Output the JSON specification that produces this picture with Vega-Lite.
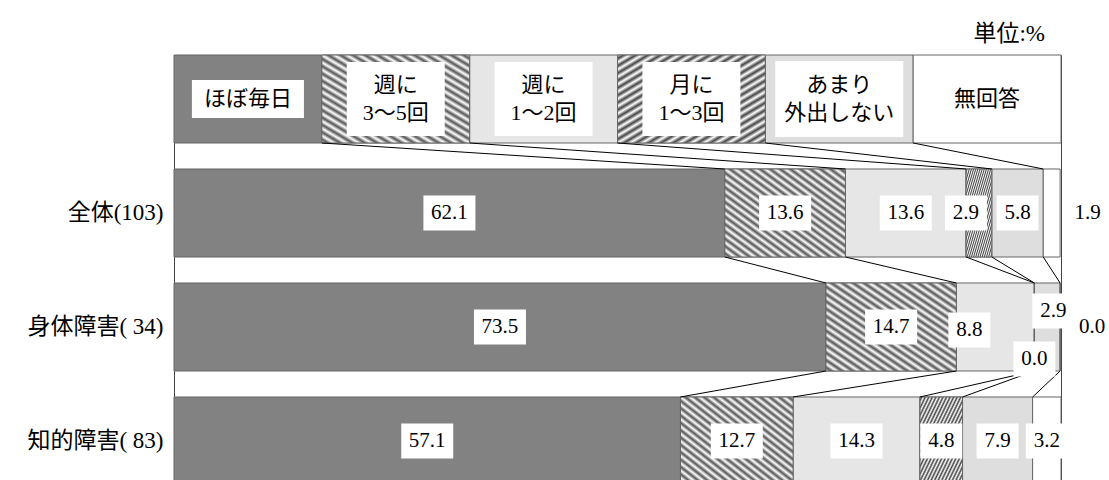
{
  "$schema": "https://vega.github.io/schema/vega-lite/v6.json",
  "width": 887,
  "height": 430,
  "autosize": {"type": "none"},
  "padding": {"left": 174, "top": 55, "right": 48, "bottom": 0},
  "background": "white",
  "config": {
    "view": {"stroke": "#444", "strokeWidth": 1},
    "font": "Liberation Serif, Noto Sans CJK JP",
    "text": {"font": "Liberation Serif, Noto Sans CJK JP", "color": "#000"}
  },
  "title": {"text": "単位:%", "anchor": "end", "frame": "group", "fontSize": 23, "fontWeight": "normal", "font": "Liberation Serif, Noto Sans CJK JP", "color": "#000", "offset": 9, "dx": -16},
  "datasets": {
    "bars": [
      {"row": "legend", "k": 1, "cat": "ほぼ毎日", "v": 16.6667, "label": "ほぼ毎日"},
      {"row": "legend", "k": 2, "cat": "週に3～5回", "v": 16.6667, "label": "週に\n3～5回"},
      {"row": "legend", "k": 3, "cat": "週に1～2回", "v": 16.6667, "label": "週に\n1～2回"},
      {"row": "legend", "k": 4, "cat": "月に1～3回", "v": 16.6667, "label": "月に\n1～3回"},
      {"row": "legend", "k": 5, "cat": "あまり外出しない", "v": 16.6667, "label": "あまり\n外出しない"},
      {"row": "legend", "k": 6, "cat": "無回答", "v": 16.6667, "label": "無回答"},
      {"row": "全体(103)", "k": 1, "cat": "ほぼ毎日", "v": 62.1},
      {"row": "全体(103)", "k": 2, "cat": "週に3～5回", "v": 13.6},
      {"row": "全体(103)", "k": 3, "cat": "週に1～2回", "v": 13.6},
      {"row": "全体(103)", "k": 4, "cat": "月に1～3回", "v": 2.9},
      {"row": "全体(103)", "k": 5, "cat": "あまり外出しない", "v": 5.8},
      {"row": "全体(103)", "k": 6, "cat": "無回答", "v": 1.9},
      {"row": "身体障害( 34)", "k": 1, "cat": "ほぼ毎日", "v": 73.5},
      {"row": "身体障害( 34)", "k": 2, "cat": "週に3～5回", "v": 14.7},
      {"row": "身体障害( 34)", "k": 3, "cat": "週に1～2回", "v": 8.8},
      {"row": "身体障害( 34)", "k": 4, "cat": "月に1～3回", "v": 0.0},
      {"row": "身体障害( 34)", "k": 5, "cat": "あまり外出しない", "v": 2.9},
      {"row": "身体障害( 34)", "k": 6, "cat": "無回答", "v": 0.0},
      {"row": "知的障害( 83)", "k": 1, "cat": "ほぼ毎日", "v": 57.1},
      {"row": "知的障害( 83)", "k": 2, "cat": "週に3～5回", "v": 12.7},
      {"row": "知的障害( 83)", "k": 3, "cat": "週に1～2回", "v": 14.3},
      {"row": "知的障害( 83)", "k": 4, "cat": "月に1～3回", "v": 4.8},
      {"row": "知的障害( 83)", "k": 5, "cat": "あまり外出しない", "v": 7.9},
      {"row": "知的障害( 83)", "k": 6, "cat": "無回答", "v": 3.2}
    ],
    "links": [
      {"from": "legend", "to": "全体(103)", "a": 16.6667, "b": 62.1},
      {"from": "legend", "to": "全体(103)", "a": 33.3333, "b": 75.7},
      {"from": "legend", "to": "全体(103)", "a": 50.0, "b": 89.3},
      {"from": "legend", "to": "全体(103)", "a": 66.6667, "b": 92.2},
      {"from": "legend", "to": "全体(103)", "a": 83.3333, "b": 98.0},
      {"from": "全体(103)", "to": "身体障害( 34)", "a": 62.1, "b": 73.5},
      {"from": "全体(103)", "to": "身体障害( 34)", "a": 75.7, "b": 88.2},
      {"from": "全体(103)", "to": "身体障害( 34)", "a": 89.3, "b": 97.0},
      {"from": "全体(103)", "to": "身体障害( 34)", "a": 92.2, "b": 97.0},
      {"from": "全体(103)", "to": "身体障害( 34)", "a": 98.0, "b": 99.9},
      {"from": "身体障害( 34)", "to": "知的障害( 83)", "a": 73.5, "b": 57.1},
      {"from": "身体障害( 34)", "to": "知的障害( 83)", "a": 88.2, "b": 69.8},
      {"from": "身体障害( 34)", "to": "知的障害( 83)", "a": 97.0, "b": 84.1},
      {"from": "身体障害( 34)", "to": "知的障害( 83)", "a": 97.0, "b": 88.9},
      {"from": "身体障害( 34)", "to": "知的障害( 83)", "a": 99.9, "b": 96.8}
    ]
  },
  "data": {"name": "bars"},
  "transform": [
    {"stack": "v", "groupby": ["row"], "sort": [{"field": "k", "order": "ascending"}], "as": ["x0", "x1"]}
  ],
  "layer": [
    {
      "mark": {"type": "bar", "stroke": "#666", "strokeWidth": 1},
      "encoding": {
        "y": {
          "field": "row", "type": "nominal", "sort": null, "title": null,
          "scale": {"domain": ["legend", "全体(103)", "身体障害( 34)", "知的障害( 83)"], "paddingInner": 0.228, "paddingOuter": 0},
          "axis": {"labelExpr": "datum.value == 'legend' ? '' : datum.value", "ticks": false, "domain": false, "labelFontSize": 23, "labelPadding": 11, "labelColor": "#000", "labelFont": "Liberation Serif, Noto Sans CJK JP"}
        },
        "x": {"field": "x0", "type": "quantitative", "scale": {"domain": [0, 100], "nice": false}, "axis": null},
        "x2": {"field": "x1"},
        "color": {
          "field": "cat", "type": "nominal", "legend": null,
          "scale": {"domain": ["ほぼ毎日", "週に3～5回", "週に1～2回", "月に1～3回", "あまり外出しない", "無回答"], "range": ["#828282", "#b0b0b0", "#e6e6e6", "#a0a0a0", "#dedede", "#ffffff"]}
        }
      }
    },
    {
      "transform": [{"filter": "datum.k == 2"}],
      "mark": {"type": "bar", "stroke": "#666", "strokeWidth": 1,
        "fill": {"gradient": "linear", "x1": 0, "y1": 1, "x2": 1, "y2": 0, "stops": [
          {"offset": 0, "color": "#ffffff"}, {"offset": 0.0208, "color": "#555555"}, {"offset": 0.0417, "color": "#ffffff"}, {"offset": 0.0625, "color": "#555555"},
          {"offset": 0.0833, "color": "#ffffff"}, {"offset": 0.1042, "color": "#555555"}, {"offset": 0.125, "color": "#ffffff"}, {"offset": 0.1458, "color": "#555555"},
          {"offset": 0.1667, "color": "#ffffff"}, {"offset": 0.1875, "color": "#555555"}, {"offset": 0.2083, "color": "#ffffff"}, {"offset": 0.2292, "color": "#555555"},
          {"offset": 0.25, "color": "#ffffff"}, {"offset": 0.2708, "color": "#555555"}, {"offset": 0.2917, "color": "#ffffff"}, {"offset": 0.3125, "color": "#555555"},
          {"offset": 0.3333, "color": "#ffffff"}, {"offset": 0.3542, "color": "#555555"}, {"offset": 0.375, "color": "#ffffff"}, {"offset": 0.3958, "color": "#555555"},
          {"offset": 0.4167, "color": "#ffffff"}, {"offset": 0.4375, "color": "#555555"}, {"offset": 0.4583, "color": "#ffffff"}, {"offset": 0.4792, "color": "#555555"},
          {"offset": 0.5, "color": "#ffffff"}, {"offset": 0.5208, "color": "#555555"}, {"offset": 0.5417, "color": "#ffffff"}, {"offset": 0.5625, "color": "#555555"},
          {"offset": 0.5833, "color": "#ffffff"}, {"offset": 0.6042, "color": "#555555"}, {"offset": 0.625, "color": "#ffffff"}, {"offset": 0.6458, "color": "#555555"},
          {"offset": 0.6667, "color": "#ffffff"}, {"offset": 0.6875, "color": "#555555"}, {"offset": 0.7083, "color": "#ffffff"}, {"offset": 0.7292, "color": "#555555"},
          {"offset": 0.75, "color": "#ffffff"}, {"offset": 0.7708, "color": "#555555"}, {"offset": 0.7917, "color": "#ffffff"}, {"offset": 0.8125, "color": "#555555"},
          {"offset": 0.8333, "color": "#ffffff"}, {"offset": 0.8542, "color": "#555555"}, {"offset": 0.875, "color": "#ffffff"}, {"offset": 0.8958, "color": "#555555"},
          {"offset": 0.9167, "color": "#ffffff"}, {"offset": 0.9375, "color": "#555555"}, {"offset": 0.9583, "color": "#ffffff"}, {"offset": 0.9792, "color": "#555555"},
          {"offset": 1, "color": "#ffffff"}
        ]}},
      "encoding": {
        "y": {"field": "row", "type": "nominal"},
        "x": {"field": "x0", "type": "quantitative"},
        "x2": {"field": "x1"}
      }
    },
    {
      "transform": [{"filter": "datum.k == 4"}],
      "mark": {"type": "bar", "stroke": "#666", "strokeWidth": 1,
        "fill": {"gradient": "linear", "x1": 0, "y1": 0, "x2": 1, "y2": 1, "stops": [
          {"offset": 0, "color": "#ffffff"}, {"offset": 0.0208, "color": "#444444"}, {"offset": 0.0417, "color": "#ffffff"}, {"offset": 0.0625, "color": "#444444"},
          {"offset": 0.0833, "color": "#ffffff"}, {"offset": 0.1042, "color": "#444444"}, {"offset": 0.125, "color": "#ffffff"}, {"offset": 0.1458, "color": "#444444"},
          {"offset": 0.1667, "color": "#ffffff"}, {"offset": 0.1875, "color": "#444444"}, {"offset": 0.2083, "color": "#ffffff"}, {"offset": 0.2292, "color": "#444444"},
          {"offset": 0.25, "color": "#ffffff"}, {"offset": 0.2708, "color": "#444444"}, {"offset": 0.2917, "color": "#ffffff"}, {"offset": 0.3125, "color": "#444444"},
          {"offset": 0.3333, "color": "#ffffff"}, {"offset": 0.3542, "color": "#444444"}, {"offset": 0.375, "color": "#ffffff"}, {"offset": 0.3958, "color": "#444444"},
          {"offset": 0.4167, "color": "#ffffff"}, {"offset": 0.4375, "color": "#444444"}, {"offset": 0.4583, "color": "#ffffff"}, {"offset": 0.4792, "color": "#444444"},
          {"offset": 0.5, "color": "#ffffff"}, {"offset": 0.5208, "color": "#444444"}, {"offset": 0.5417, "color": "#ffffff"}, {"offset": 0.5625, "color": "#444444"},
          {"offset": 0.5833, "color": "#ffffff"}, {"offset": 0.6042, "color": "#444444"}, {"offset": 0.625, "color": "#ffffff"}, {"offset": 0.6458, "color": "#444444"},
          {"offset": 0.6667, "color": "#ffffff"}, {"offset": 0.6875, "color": "#444444"}, {"offset": 0.7083, "color": "#ffffff"}, {"offset": 0.7292, "color": "#444444"},
          {"offset": 0.75, "color": "#ffffff"}, {"offset": 0.7708, "color": "#444444"}, {"offset": 0.7917, "color": "#ffffff"}, {"offset": 0.8125, "color": "#444444"},
          {"offset": 0.8333, "color": "#ffffff"}, {"offset": 0.8542, "color": "#444444"}, {"offset": 0.875, "color": "#ffffff"}, {"offset": 0.8958, "color": "#444444"},
          {"offset": 0.9167, "color": "#ffffff"}, {"offset": 0.9375, "color": "#444444"}, {"offset": 0.9583, "color": "#ffffff"}, {"offset": 0.9792, "color": "#444444"},
          {"offset": 1, "color": "#ffffff"}
        ]}},
      "encoding": {
        "y": {"field": "row", "type": "nominal"},
        "x": {"field": "x0", "type": "quantitative"},
        "x2": {"field": "x1"}
      }
    },
    {
      "data": {"name": "links"},
      "mark": {"type": "rule", "color": "#000", "strokeWidth": 1},
      "encoding": {
        "x": {"field": "a", "type": "quantitative"},
        "x2": {"field": "b"},
        "y": {"field": "from", "type": "nominal", "bandPosition": 1},
        "y2": {"field": "to", "bandPosition": 0}
      }
    },
    {
      "transform": [{"filter": "datum.row == 'legend' && datum.k <= 5"}],
      "mark": {"type": "point", "filled": true, "fill": "#ffffff", "strokeWidth": 0, "opacity": 1, "size": 5476},
      "encoding": {
        "y": {"field": "row", "type": "nominal"},
        "x": {"field": "v", "type": "quantitative", "stack": "zero", "bandPosition": 0.5},
        "order": {"field": "k", "type": "quantitative"},
        "shape": {
          "field": "cat", "type": "nominal", "legend": null,
          "scale": {"domain": ["ほぼ毎日", "週に3～5回", "週に1～2回", "月に1～3回", "あまり外出しない"],
            "range": ["M-1.514,-0.514H1.514V0.514H-1.514Z", "M-1.324,-1H1.324V1H-1.324Z", "M-1.324,-1H1.324V1H-1.324Z", "M-1.324,-1H1.324V1H-1.324Z", "M-1.73,-1.027H1.73V1.027H-1.73Z"]}
        }
      }
    },
    {
      "transform": [{"filter": "datum.row == 'legend'"}],
      "mark": {"type": "text", "fontSize": 22, "lineBreak": "\n", "lineHeight": 28, "align": "center", "baseline": "middle", "font": "Liberation Serif, Noto Sans CJK JP",
        "dy": {"expr": "datum.k == 1 || datum.k == 6 ? 0 : -14"}},
      "encoding": {
        "y": {"field": "row", "type": "nominal"},
        "x": {"field": "v", "type": "quantitative", "stack": "zero", "bandPosition": 0.5},
        "order": {"field": "k", "type": "quantitative"},
        "text": {"field": "label", "type": "nominal"}
      }
    },
    {
      "transform": [{"filter": "datum.row != 'legend'"}],
      "mark": {"type": "point", "filled": true, "fill": "#ffffff", "strokeWidth": 0, "opacity": 1, "size": 1225},
      "encoding": {
        "y": {"field": "row", "type": "nominal"},
        "x": {"field": "v", "type": "quantitative", "stack": "zero", "bandPosition": 0.5},
        "order": {"field": "k", "type": "quantitative"},
        "shape": {
          "condition": [
            {"test": "datum.row == '全体(103)' && datum.k == 4", "value": "M-1.943,-1H0.457V1H-1.943Z"},
            {"test": "datum.row == '全体(103)' && datum.k == 6", "value": "M0.857,-1H3.257V1H0.857Z"},
            {"test": "datum.row == '身体障害( 34)' && datum.k == 3", "value": "M-2.686,-0.829H-0.286V1.171H-2.686Z"},
            {"test": "datum.row == '身体障害( 34)' && datum.k == 4", "value": "M-1.2,0.829H1.2V2.829H-1.2Z"},
            {"test": "datum.row == '身体障害( 34)' && datum.k == 5", "value": "M-0.857,-1.914H1.543V0.086H-0.857Z"},
            {"test": "datum.row == '身体障害( 34)' && datum.k == 6", "value": "M0.629,-1H3.029V1H0.629Z"},
            {"test": "datum.v >= 10", "value": "M-1.486,-1H1.486V1H-1.486Z"}
          ],
          "value": "M-1.2,-1H1.2V1H-1.2Z"
        }
      }
    },
    {
      "transform": [{"filter": "datum.row != 'legend'"}],
      "mark": {"type": "text", "fontSize": 21, "align": "center", "baseline": "middle", "font": "Liberation Serif, Noto Sans CJK JP",
        "dx": {"expr": "datum.row == '全体(103)' && datum.k == 4 ? -13 : datum.row == '全体(103)' && datum.k == 6 ? 36 : datum.row == '身体障害( 34)' && datum.k == 3 ? -26 : datum.row == '身体障害( 34)' && datum.k == 5 ? 6 : datum.row == '身体障害( 34)' && datum.k == 6 ? 32 : 0"},
        "dy": {"expr": "datum.row == '身体障害( 34)' && datum.k == 3 ? 3 : datum.row == '身体障害( 34)' && datum.k == 4 ? 32 : datum.row == '身体障害( 34)' && datum.k == 5 ? -16 : 0"}
      },
      "encoding": {
        "y": {"field": "row", "type": "nominal"},
        "x": {"field": "v", "type": "quantitative", "stack": "zero", "bandPosition": 0.5},
        "order": {"field": "k", "type": "quantitative"},
        "text": {"field": "v", "type": "quantitative", "format": ".1f"}
      }
    }
  ]
}
